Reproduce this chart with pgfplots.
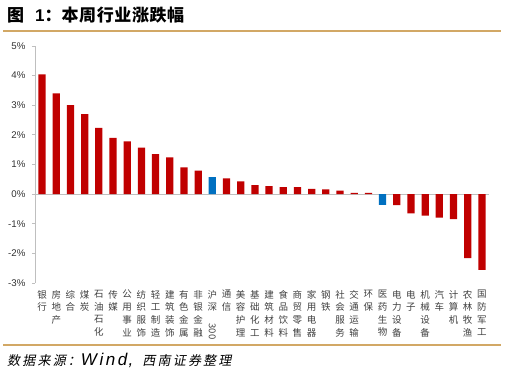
\documentclass[border=0pt]{standalone}
\usepackage{fontspec}
\usepackage{graphicx}
\usepackage{pgfplots}
\pgfplotsset{compat=1.18}
\setmainfont{Liberation Sans}
\newfontfamily\cjk{Noto Sans CJK SC}
\newfontfamily\cjksl[FakeSlant=0.2]{Noto Sans CJK SC}
\definecolor{barred}{HTML}{C00000}
\definecolor{barblue}{HTML}{0070C0}
\definecolor{tan}{HTML}{D2A865}
\definecolor{axgray}{HTML}{BFBFBF}
\newcommand\tg{\hspace{0.6pt}}
\newcommand\sg{\hspace{2.2pt}}
\begin{document}
\begin{tikzpicture}
\useasboundingbox (0pt,0pt) rectangle (507pt,377pt);
\draw[tan, line width=1.6pt] (3pt,346pt) -- (501pt,346pt);
\draw[tan, line width=1.6pt] (3pt,32pt) -- (501pt,32pt);
\node[anchor=base west, inner sep=0pt] at (7pt,355.5pt) {\fontsize{17}{19}\selectfont\cjk\bfseries 图\hspace{11pt}{\rmfamily\bfseries 1}：本\tg 周\tg 行\tg 业\tg 涨\tg 跌\tg 幅};
\node[anchor=base west, inner sep=0pt] at (7pt,11pt) {\fontsize{13}{15}\selectfont\cjksl 数\sg 据\sg 来\sg 源\sg ：{\fontsize{17}{19}\selectfont\itshape\rmfamily W\hspace{2.5pt}i\hspace{2.5pt}n\hspace{2.5pt}d\hspace{1.5pt},}\hspace{9pt}西\sg 南\sg 证\sg 券\sg 整\sg 理};
\begin{axis}[
  at={(35pt,94pt)}, anchor=south west,
  scale only axis, width=454pt, height=237pt,
  xmin=0.5, xmax=32.5, ymin=-3, ymax=5,
  axis lines=left,
  x axis line style={draw=none},
  y axis line style={draw=axgray, line width=0.8pt, -},
  ytick={-3,-2,...,5},
  yticklabels={-3\%,-2\%,-1\%,0\%,1\%,2\%,3\%,4\%,5\%},
  yticklabel style={font=\fontsize{9.7}{11}\selectfont, text=black!80, xshift=-3pt},
  tick align=outside,
  major tick length=3pt,
  ytick style={draw=axgray, line width=0.8pt},
  xtick={1,...,32},
  xtick style={draw=none},
  xticklabel style={anchor=north, yshift=-4pt, font=\cjk\fontsize{9.5}{12.7}\selectfont, align=center, inner sep=0pt, text=black!75},
  xticklabels={{银\\行},{房\\地\\产},{综\\合},{煤\\炭},{石\\油\\石\\化},{传\\媒},{公\\用\\事\\业},{纺\\织\\服\\饰},{轻\\工\\制\\造},{建\\筑\\装\\饰},{有\\色\\金\\属},{非\\银\\金\\融},{沪\\深\\\rotatebox{-90}{300}},{通\\信},{美\\容\\护\\理},{基\\础\\化\\工},{建\\筑\\材\\料},{食\\品\\饮\\料},{商\\贸\\零\\售},{家\\用\\电\\器},{钢\\铁},{社\\会\\服\\务},{交\\通\\运\\输},{环\\保},{医\\药\\生\\物},{电\\力\\设\\备},{电\\子},{机\\械\\设\\备},{汽\\车},{计\\算\\机},{农\\林\\牧\\渔},{国\\防\\军\\工}},
  clip=false,
]
\draw[axgray, line width=0.9pt] (axis cs:0.5,0) -- (axis cs:32.5,0);
\addplot[ybar, bar width=7.3pt, bar shift=0pt, fill=barred, draw=none] coordinates {
(1,4.04) (2,3.40) (3,3.00) (4,2.70) (5,2.24) (6,1.90) (7,1.78) (8,1.57) (9,1.35) (10,1.24) (11,0.90) (12,0.79)
(14,0.53) (15,0.43) (16,0.30) (17,0.27) (18,0.24) (19,0.24) (20,0.18) (21,0.16) (22,0.12) (23,0.04) (24,0.04)
(26,-0.37) (27,-0.65) (28,-0.73) (29,-0.79) (30,-0.84) (31,-2.16) (32,-2.56)
};
\addplot[ybar, bar width=7.3pt, bar shift=0pt, fill=barblue, draw=none] coordinates {
(13,0.57) (25,-0.36)
};
\end{axis}
\end{tikzpicture}
\end{document}
